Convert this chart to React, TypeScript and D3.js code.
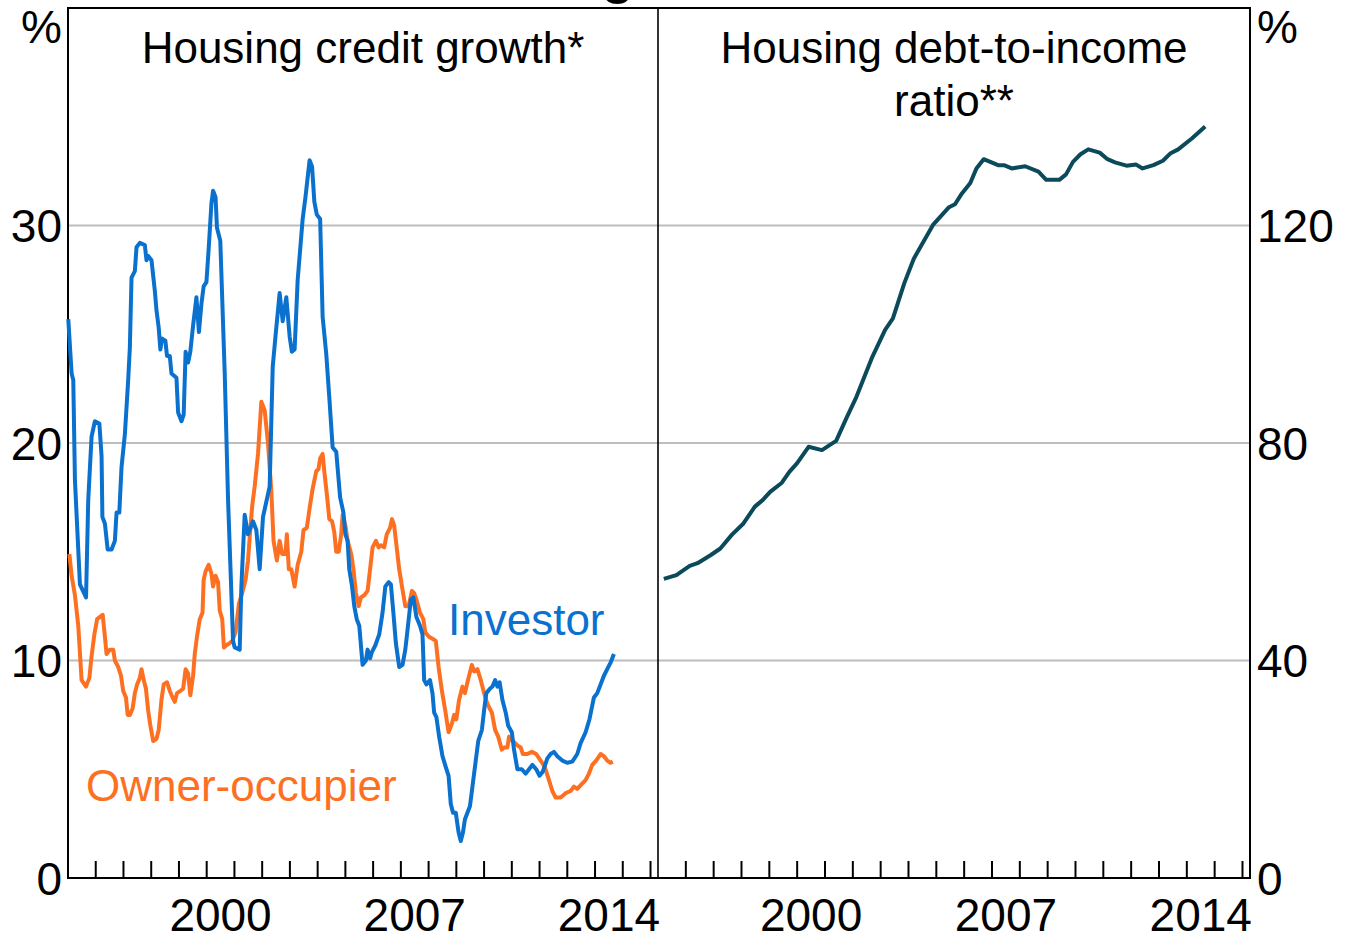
import React, { useRef, useEffect } from "react";
import * as d3 from "d3";

// Housing credit growth, year-ended % (decimal year, value)
const investorSeries: [number, number][] = [
  [1995.01, 25.7], [1995.13, 23.2], [1995.19, 22.9], [1995.25, 18.3], [1995.43, 13.5],
  [1995.65, 12.9], [1995.73, 17.4], [1995.85, 20.3], [1995.97, 21.0], [1996.13, 20.9],
  [1996.21, 19.4], [1996.24, 16.6], [1996.33, 16.3], [1996.43, 15.1], [1996.57, 15.1],
  [1996.69, 15.5], [1996.75, 16.8], [1996.85, 16.8], [1996.93, 18.9], [1997.05, 20.4],
  [1997.17, 22.9], [1997.23, 24.4], [1997.29, 27.6], [1997.41, 27.9], [1997.47, 29.0],
  [1997.59, 29.2], [1997.77, 29.1], [1997.83, 28.4], [1997.89, 28.6], [1998.01, 28.4],
  [1998.13, 27.0], [1998.19, 26.1], [1998.27, 25.3], [1998.33, 24.3], [1998.39, 24.8],
  [1998.51, 24.7], [1998.57, 24.0], [1998.67, 24.0], [1998.73, 23.2], [1998.91, 23.0],
  [1998.97, 21.4], [1999.09, 21.0], [1999.17, 21.3], [1999.24, 24.2], [1999.33, 23.7],
  [1999.41, 24.2], [1999.51, 25.4], [1999.63, 26.7], [1999.72, 25.1], [1999.81, 26.4],
  [1999.89, 27.2], [1999.99, 27.4], [2000.07, 28.9], [2000.17, 31.0], [2000.23, 31.6],
  [2000.32, 31.3], [2000.37, 29.9], [2000.49, 29.3], [2000.65, 23.2], [2000.77, 17.4],
  [2000.95, 10.9], [2001.01, 10.6], [2001.19, 10.5], [2001.25, 13.4], [2001.37, 16.7],
  [2001.49, 15.8], [2001.67, 16.4], [2001.79, 16.0], [2001.91, 14.2], [2002.03, 16.6],
  [2002.27, 18.0], [2002.38, 23.5], [2002.48, 24.9], [2002.63, 26.9], [2002.74, 25.6],
  [2002.87, 26.7], [2002.99, 24.9], [2003.07, 24.2], [2003.17, 24.3], [2003.28, 27.5],
  [2003.46, 30.3], [2003.56, 31.3], [2003.71, 33.0], [2003.8, 32.7], [2003.88, 31.1],
  [2003.97, 30.5], [2004.09, 30.3], [2004.18, 25.8], [2004.31, 24.1], [2004.42, 22.1],
  [2004.54, 19.8], [2004.67, 19.6], [2004.81, 17.5], [2004.93, 16.8], [2005.0, 15.8],
  [2005.08, 15.5], [2005.14, 14.2], [2005.24, 13.4], [2005.32, 12.5], [2005.41, 11.9],
  [2005.5, 11.6], [2005.62, 9.8], [2005.74, 10.0], [2005.8, 10.5], [2005.89, 10.1],
  [2005.96, 10.4], [2006.08, 10.7], [2006.22, 11.2], [2006.34, 12.2], [2006.44, 13.4],
  [2006.56, 13.6], [2006.64, 13.5], [2006.73, 12.2], [2006.82, 10.8], [2006.94, 9.7],
  [2007.06, 9.8], [2007.16, 10.5], [2007.24, 11.4], [2007.36, 12.8], [2007.45, 12.9],
  [2007.56, 12.0], [2007.69, 11.6], [2007.78, 11.2], [2007.84, 9.1], [2007.92, 8.9],
  [2008.05, 9.1], [2008.14, 8.5], [2008.2, 7.6], [2008.28, 7.4], [2008.38, 6.5],
  [2008.5, 5.6], [2008.62, 5.1], [2008.72, 4.7], [2008.8, 3.4], [2008.88, 3.0],
  [2008.98, 3.0], [2009.08, 2.1], [2009.16, 1.7], [2009.24, 2.1], [2009.31, 2.7],
  [2009.4, 3.0], [2009.49, 3.3], [2009.58, 4.2], [2009.7, 5.4], [2009.79, 6.3],
  [2009.92, 6.8], [2010.0, 7.7], [2010.08, 8.5], [2010.21, 8.7], [2010.3, 8.8],
  [2010.4, 9.1], [2010.48, 8.8], [2010.56, 9.0], [2010.66, 8.2], [2010.78, 7.6],
  [2010.87, 7.0], [2011.0, 6.7], [2011.08, 5.9], [2011.2, 5.0], [2011.36, 5.0],
  [2011.5, 4.8], [2011.62, 5.0], [2011.74, 5.2], [2011.88, 5.0], [2012.0, 4.7],
  [2012.12, 4.9], [2012.28, 5.5], [2012.4, 5.7], [2012.52, 5.8], [2012.64, 5.6],
  [2012.82, 5.4], [2013.0, 5.3], [2013.18, 5.35], [2013.36, 5.7], [2013.48, 6.2],
  [2013.66, 6.7], [2013.8, 7.3], [2013.96, 8.3], [2014.08, 8.5], [2014.2, 8.9],
  [2014.32, 9.3], [2014.44, 9.6], [2014.56, 9.9], [2014.68, 10.3],
];

const ownerSeries: [number, number][] = [
  [1995.05, 14.9], [1995.13, 13.9], [1995.25, 13.0], [1995.37, 11.6], [1995.49, 9.1],
  [1995.65, 8.8], [1995.77, 9.2], [1995.85, 10.2], [1995.95, 11.2], [1996.05, 11.9],
  [1996.25, 12.1], [1996.33, 11.1], [1996.39, 10.3], [1996.51, 10.5], [1996.63, 10.5],
  [1996.69, 10.0], [1996.81, 9.7], [1996.91, 9.3], [1996.99, 8.6], [1997.09, 8.3],
  [1997.15, 7.5], [1997.23, 7.5], [1997.33, 7.8], [1997.41, 8.5], [1997.49, 8.9],
  [1997.59, 9.2], [1997.65, 9.6], [1997.73, 9.1], [1997.81, 8.7], [1997.89, 7.7],
  [1997.97, 7.0], [1998.07, 6.3], [1998.19, 6.4], [1998.27, 6.8], [1998.37, 8.2],
  [1998.45, 8.9], [1998.57, 9.0], [1998.67, 8.6], [1998.77, 8.3], [1998.85, 8.1],
  [1998.93, 8.5], [1999.05, 8.6], [1999.15, 8.7], [1999.24, 9.6], [1999.33, 9.4],
  [1999.41, 8.4], [1999.51, 9.3], [1999.57, 10.3], [1999.65, 11.1], [1999.75, 11.9],
  [1999.85, 12.2], [1999.89, 13.7], [1999.96, 14.1], [2000.07, 14.4], [2000.17, 14.0],
  [2000.23, 13.4], [2000.32, 13.9], [2000.41, 13.6], [2000.47, 12.3], [2000.56, 11.9],
  [2000.62, 10.6], [2000.71, 10.7], [2000.83, 10.8], [2000.92, 10.9], [2001.04, 11.3],
  [2001.16, 12.6], [2001.28, 13.1], [2001.4, 13.7], [2001.49, 14.6], [2001.57, 16.0],
  [2001.64, 17.1], [2001.73, 18.0], [2001.85, 19.5], [2001.97, 21.9], [2002.09, 21.5],
  [2002.21, 20.0], [2002.33, 17.8], [2002.41, 15.5], [2002.53, 14.6], [2002.63, 15.5],
  [2002.72, 14.9], [2002.84, 14.9], [2002.89, 15.8], [2002.96, 14.2], [2003.05, 14.2],
  [2003.17, 13.4], [2003.28, 14.4], [2003.41, 15.0], [2003.49, 16.0], [2003.61, 16.1],
  [2003.71, 17.0], [2003.82, 17.9], [2003.95, 18.7], [2004.03, 18.8], [2004.09, 19.3],
  [2004.18, 19.5], [2004.24, 18.7], [2004.36, 17.3], [2004.42, 16.5], [2004.52, 16.4],
  [2004.6, 15.9], [2004.67, 15.0], [2004.76, 15.0], [2004.85, 15.8], [2004.9, 16.7],
  [2005.0, 16.2], [2005.08, 15.5], [2005.21, 14.9], [2005.29, 14.2], [2005.38, 13.1],
  [2005.48, 12.5], [2005.56, 12.9], [2005.68, 13.0], [2005.8, 13.2], [2005.89, 14.2],
  [2005.98, 15.2], [2006.1, 15.5], [2006.2, 15.2], [2006.28, 15.3], [2006.4, 15.2],
  [2006.49, 15.8], [2006.61, 16.1], [2006.68, 16.5], [2006.76, 16.2], [2006.85, 15.2],
  [2006.94, 14.2], [2007.04, 13.4], [2007.16, 12.5], [2007.28, 12.5], [2007.4, 13.2],
  [2007.48, 13.1], [2007.56, 12.8], [2007.69, 12.2], [2007.81, 11.9], [2007.88, 11.3],
  [2008.0, 11.1], [2008.14, 11.0], [2008.26, 10.9], [2008.36, 9.7], [2008.48, 8.6],
  [2008.6, 7.7], [2008.72, 6.7], [2008.84, 7.1], [2008.92, 7.5], [2009.0, 7.3],
  [2009.1, 8.2], [2009.22, 8.8], [2009.31, 8.5], [2009.4, 9.0], [2009.56, 9.8],
  [2009.64, 9.5], [2009.76, 9.6], [2009.88, 9.1], [2010.0, 8.5], [2010.12, 8.0],
  [2010.28, 7.6], [2010.4, 6.8], [2010.51, 6.5], [2010.64, 5.9], [2010.72, 6.0],
  [2010.84, 6.0], [2010.9, 6.5], [2011.04, 6.3], [2011.2, 6.1], [2011.32, 6.0],
  [2011.4, 5.7], [2011.56, 5.7], [2011.72, 5.8], [2011.88, 5.7], [2012.04, 5.4],
  [2012.19, 5.1], [2012.34, 4.5], [2012.46, 4.0], [2012.58, 3.7], [2012.76, 3.7],
  [2012.94, 3.9], [2013.12, 4.0], [2013.24, 4.2], [2013.36, 4.1], [2013.51, 4.3],
  [2013.66, 4.5], [2013.78, 4.8], [2013.9, 5.2], [2014.04, 5.4], [2014.2, 5.7],
  [2014.32, 5.6], [2014.44, 5.4], [2014.56, 5.3], [2014.64, 5.35],
];

// Housing debt-to-income ratio, %
const debtSeries: [number, number][] = [
  [1995.21, 55.0], [1995.66, 55.7], [1996.14, 57.4], [1996.42, 57.9], [1996.9, 59.4],
  [1997.24, 60.6], [1997.65, 63.1], [1998.07, 65.2], [1998.48, 68.3], [1998.76, 69.5],
  [1999.03, 71.0], [1999.45, 72.7], [1999.72, 74.7], [2000.0, 76.3], [2000.41, 79.3],
  [2000.89, 78.7], [2001.4, 80.4], [2001.79, 84.8], [2002.13, 88.5], [2002.68, 95.6],
  [2003.16, 100.8], [2003.44, 102.9], [2003.85, 109.4], [2004.19, 113.9], [2004.88, 120.1],
  [2005.44, 123.3], [2005.67, 123.9], [2005.92, 125.9], [2006.22, 127.8], [2006.44, 130.5],
  [2006.7, 132.2], [2007.22, 131.1], [2007.43, 131.1], [2007.71, 130.5], [2008.19, 130.9],
  [2008.67, 129.9], [2008.95, 128.4], [2009.42, 128.4], [2009.66, 129.4], [2009.91, 131.7],
  [2010.18, 133.1], [2010.46, 134.0], [2010.87, 133.4], [2011.15, 132.2], [2011.42, 131.6],
  [2011.83, 131.0], [2012.18, 131.2], [2012.41, 130.5], [2012.8, 131.1], [2013.14, 131.9],
  [2013.42, 133.3], [2013.69, 134.0], [2014.18, 136.0], [2014.66, 138.2],
];

const yearDomain = [1995, 2016.27];
const yearLabels = [2000, 2007, 2014];
const creditTicks = [0, 10, 20, 30];
const ratioTicks = [0, 40, 80, 120];

const BLUE = "#0a71cf";
const ORANGE = "#fd7022";
const TEAL = "#0b4a5a";
const GRID = "#bdbdbd";
const FONT = "'Liberation Sans', Arial, sans-serif";

const App = () => {
  const ref = useRef<SVGSVGElement>(null);

  useEffect(() => {
    const width = 1345;
    const height = 940;
    const top = 8;
    const bottom = 878;
    const leftX = [68, 658];
    const rightX = [658, 1250];

    const svg = d3.select(ref.current);
    svg.selectAll("*").remove();
    svg.attr("width", width).attr("height", height).attr("viewBox", `0 0 ${width} ${height}`);

    const xL = d3.scaleLinear().domain(yearDomain).range(leftX);
    const xR = d3.scaleLinear().domain(yearDomain).range(rightX);
    const yL = d3.scaleLinear().domain([0, 40]).range([bottom, top]);
    const yR = d3.scaleLinear().domain([0, 160]).range([bottom, top]);

    const g = svg.append("g").style("font-family", FONT);

    // gridlines
    const drawGrid = (x: d3.ScaleLinear<number, number>, y: d3.ScaleLinear<number, number>, ticks: number[]) => {
      g.append("g")
        .selectAll("line")
        .data(ticks.filter((t) => t > 0))
        .join("line")
        .attr("x1", x.range()[0])
        .attr("x2", x.range()[1])
        .attr("y1", (d) => y(d))
        .attr("y2", (d) => y(d))
        .attr("stroke", GRID)
        .attr("stroke-width", 2);
    };
    drawGrid(xL, yL, creditTicks);
    drawGrid(xR, yR, ratioTicks);

    // year ticks on the bottom axis
    const yearTicks = d3.range(1996, 2017);
    [xL, xR].forEach((x) => {
      g.append("g")
        .selectAll("line")
        .data(yearTicks)
        .join("line")
        .attr("x1", (d) => x(d))
        .attr("x2", (d) => x(d))
        .attr("y1", bottom)
        .attr("y2", bottom - 17)
        .attr("stroke", "#000")
        .attr("stroke-width", 2);
      g.append("g")
        .selectAll("text")
        .data(yearLabels)
        .join("text")
        .attr("x", (d) => x(d + 0.5))
        .attr("y", 931)
        .attr("text-anchor", "middle")
        .style("font-size", "46px")
        .text((d) => d);
    });

    // frame
    const frame = g.append("g").attr("stroke", "#000").attr("fill", "none");
    frame.append("rect")
      .attr("x", leftX[0])
      .attr("y", top)
      .attr("width", rightX[1] - leftX[0])
      .attr("height", bottom - top)
      .attr("stroke-width", 2);
    frame.append("line")
      .attr("x1", leftX[1]).attr("x2", leftX[1])
      .attr("y1", top).attr("y2", bottom)
      .attr("stroke-width", 1.6);

    // y labels
    g.append("g")
      .selectAll("text")
      .data(creditTicks)
      .join("text")
      .attr("x", 62)
      .attr("y", (d) => yL(d))
      .attr("dy", "0.36em")
      .attr("text-anchor", "end")
      .style("font-size", "46px")
      .text((d) => d);
    g.append("g")
      .selectAll("text")
      .data(ratioTicks)
      .join("text")
      .attr("x", 1257)
      .attr("y", (d) => yR(d))
      .attr("dy", "0.36em")
      .attr("text-anchor", "start")
      .style("font-size", "46px")
      .text((d) => d);
    g.append("text").attr("x", 62).attr("y", 43).attr("text-anchor", "end").style("font-size", "46px").text("%");
    g.append("text").attr("x", 1257).attr("y", 43).attr("text-anchor", "start").style("font-size", "46px").text("%");

    // clipped tail of the chart title above
    g.append("text").attr("x", 601).attr("y", -8).style("font-size", "60px").text("g");

    // lines
    const lineL = d3.line<[number, number]>().x((d) => xL(d[0])).y((d) => yL(d[1]));
    const lineR = d3.line<[number, number]>().x((d) => xR(d[0])).y((d) => yR(d[1]));

    g.append("path").datum(ownerSeries).attr("d", lineL).attr("fill", "none")
      .attr("stroke", ORANGE).attr("stroke-width", 4).attr("stroke-linejoin", "round");
    g.append("path").datum(investorSeries).attr("d", lineL).attr("fill", "none")
      .attr("stroke", BLUE).attr("stroke-width", 4).attr("stroke-linejoin", "round");
    g.append("path").datum(debtSeries).attr("d", lineR).attr("fill", "none")
      .attr("stroke", TEAL).attr("stroke-width", 4).attr("stroke-linejoin", "round");

    // titles and series labels
    const midL = (leftX[0] + leftX[1]) / 2;
    const midR = (rightX[0] + rightX[1]) / 2;
    g.append("text").attr("x", midL).attr("y", 63).attr("text-anchor", "middle").style("font-size", "44px")
      .text("Housing credit growth*");
    g.append("text").attr("x", midR).attr("y", 63).attr("text-anchor", "middle").style("font-size", "44px")
      .text("Housing debt-to-income");
    g.append("text").attr("x", midR).attr("y", 116).attr("text-anchor", "middle").style("font-size", "44px")
      .text("ratio**");
    g.append("text").attr("x", 448).attr("y", 635).style("font-size", "44px").attr("fill", BLUE).text("Investor");
    g.append("text").attr("x", 86).attr("y", 801).style("font-size", "44px").attr("fill", ORANGE).text("Owner-occupier");
  }, []);

  return <svg ref={ref} style={{ position: "absolute", left: 0, top: 0, display: "block", background: "#fff" }} />;
};

export default App;
